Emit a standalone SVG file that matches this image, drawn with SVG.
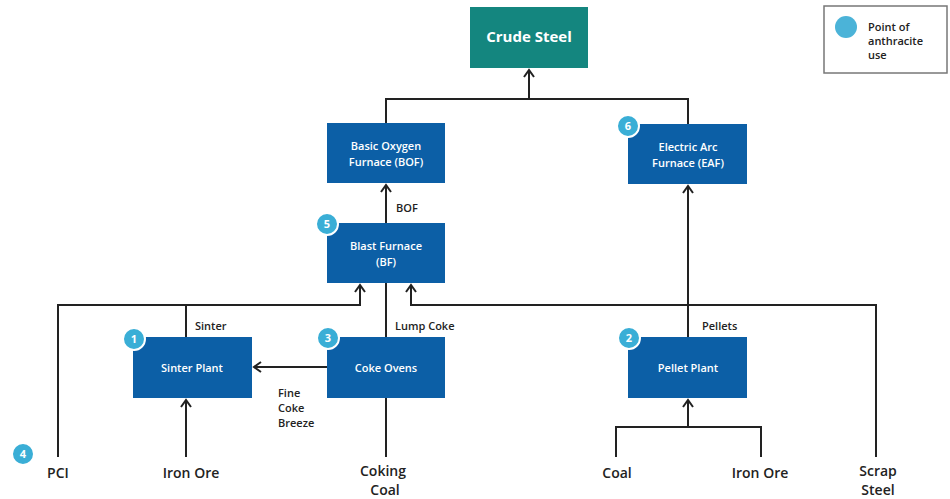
<svg xmlns="http://www.w3.org/2000/svg" width="950" height="499" viewBox="0 0 950 499">
<style>
.box{fill:#0C5FA6}
.bt{fill:#fff;font-family:"Open Sans","Liberation Sans",sans-serif;font-size:11px;font-weight:600;text-anchor:middle}
.ln{fill:none;stroke:#222;stroke-width:2}
.lb{fill:#222;font-family:"Open Sans","Liberation Sans",sans-serif;font-size:11px;font-weight:600}
.in{fill:#222;font-family:"Open Sans","Liberation Sans",sans-serif;font-size:14px;font-weight:600;text-anchor:middle}
.bd{fill:#3AAED6;stroke:#fff;stroke-width:2}
.bn{fill:#fff;font-family:"Open Sans","Liberation Sans",sans-serif;font-size:11px;font-weight:700;text-anchor:middle}
.lg{fill:#222;font-family:"Open Sans","Liberation Sans",sans-serif;font-size:11px;font-weight:600}
</style>
<defs>
<marker id="ah" viewBox="0 0 12 12" refX="10" refY="6" markerWidth="12" markerHeight="12" markerUnits="userSpaceOnUse" orient="auto">
<path d="M3,1 L10,6 L3,11" fill="none" stroke="#222" stroke-width="2"/>
</marker>
</defs>
<rect width="950" height="499" fill="#fff"/>
<g id="connectors">
<path class="ln" d="M386,123 V99 H688 V124"/>
<path class="ln" d="M529,99 V70" marker-end="url(#ah)"/>
<path class="ln" d="M386,223 V185" marker-end="url(#ah)"/>
<path class="ln" d="M688,337 V186" marker-end="url(#ah)"/>
<path class="ln" d="M58,457 V305 H360 V285" marker-end="url(#ah)"/>
<path class="ln" d="M186,337 V305"/>
<path class="ln" d="M876,457 V305 H411 V285" marker-end="url(#ah)"/>
<path class="ln" d="M386,337 V283"/>
<path class="ln" d="M386,457 V398"/>
<path class="ln" d="M327,367 H254" marker-end="url(#ah)"/>
<path class="ln" d="M186,457 V400" marker-end="url(#ah)"/>
<path class="ln" d="M616,457 V427 H761 V457"/>
<path class="ln" d="M688,427 V400" marker-end="url(#ah)"/>
<text class="lb" x="396" y="212">BOF</text>
<text class="lb" x="195" y="330">Sinter</text>
<text class="lb" x="395" y="330">Lump Coke</text>
<text class="lb" x="702" y="330">Pellets</text>
<text class="lb" x="278" y="397">Fine</text>
<text class="lb" x="278" y="412">Coke</text>
<text class="lb" x="278" y="427">Breeze</text>
</g>
<g id="crude-steel">
<rect x="470" y="7" width="118" height="61" fill="#14867F"/>
<text x="529" y="42" fill="#fff" font-family="'Open Sans','Liberation Sans',sans-serif" font-size="15" font-weight="700" text-anchor="middle">Crude Steel</text>
</g>
<g id="bof">
<rect class="box" x="327" y="123" width="118" height="60"/>
<text class="bt" x="386" y="150">Basic Oxygen</text>
<text class="bt" x="386" y="166">Furnace (BOF)</text>
</g>
<g id="eaf">
<rect class="box" x="628" y="124" width="119" height="60"/>
<text class="bt" x="688" y="151">Electric Arc</text>
<text class="bt" x="688" y="167">Furnace (EAF)</text>
<circle class="bd" cx="628" cy="126" r="11"/>
<text class="bn" x="628" y="130">6</text>
</g>
<g id="bf">
<rect class="box" x="327" y="223" width="118" height="60"/>
<text class="bt" x="386" y="250">Blast Furnace</text>
<text class="bt" x="386" y="266">(BF)</text>
<circle class="bd" cx="327" cy="224" r="11"/>
<text class="bn" x="327" y="228">5</text>
</g>
<g id="sinter-plant">
<rect class="box" x="133" y="337" width="119" height="61"/>
<text class="bt" x="192" y="372">Sinter Plant</text>
<circle class="bd" cx="134" cy="339" r="11"/>
<text class="bn" x="134" y="343">1</text>
</g>
<g id="coke-ovens">
<rect class="box" x="327" y="337" width="118" height="61"/>
<text class="bt" x="386" y="372">Coke Ovens</text>
<circle class="bd" cx="328" cy="338" r="11"/>
<text class="bn" x="328" y="342">3</text>
</g>
<g id="pellet-plant">
<rect class="box" x="628" y="337" width="119" height="61"/>
<text class="bt" x="688" y="372">Pellet Plant</text>
<circle class="bd" cx="629" cy="338" r="11"/>
<text class="bn" x="629" y="342">2</text>
</g>
<g id="pci">
<circle class="bd" cx="23" cy="454" r="11"/>
<text class="bn" x="23" y="458">4</text>
<text class="in" x="58" y="478">PCI</text>
</g>
<g id="iron-ore-1"><text class="in" x="191" y="478">Iron Ore</text></g>
<g id="coking-coal"><text class="in" x="383" y="476">Coking</text><text class="in" x="385" y="495">Coal</text></g>
<g id="coal"><text class="in" x="617" y="478">Coal</text></g>
<g id="iron-ore-2"><text class="in" x="760" y="478">Iron Ore</text></g>
<g id="scrap-steel"><text class="in" x="878" y="476">Scrap</text><text class="in" x="878" y="495">Steel</text></g>
<g id="legend">
<rect x="824" y="6" width="123" height="67" fill="#fff" stroke="#777" stroke-width="1.5"/>
<circle cx="846" cy="27" r="11" fill="#4BB3D8"/>
<text class="lg" x="868" y="31">Point of</text>
<text class="lg" x="868" y="45">anthracite</text>
<text class="lg" x="868" y="59">use</text>
</g>
</svg>
